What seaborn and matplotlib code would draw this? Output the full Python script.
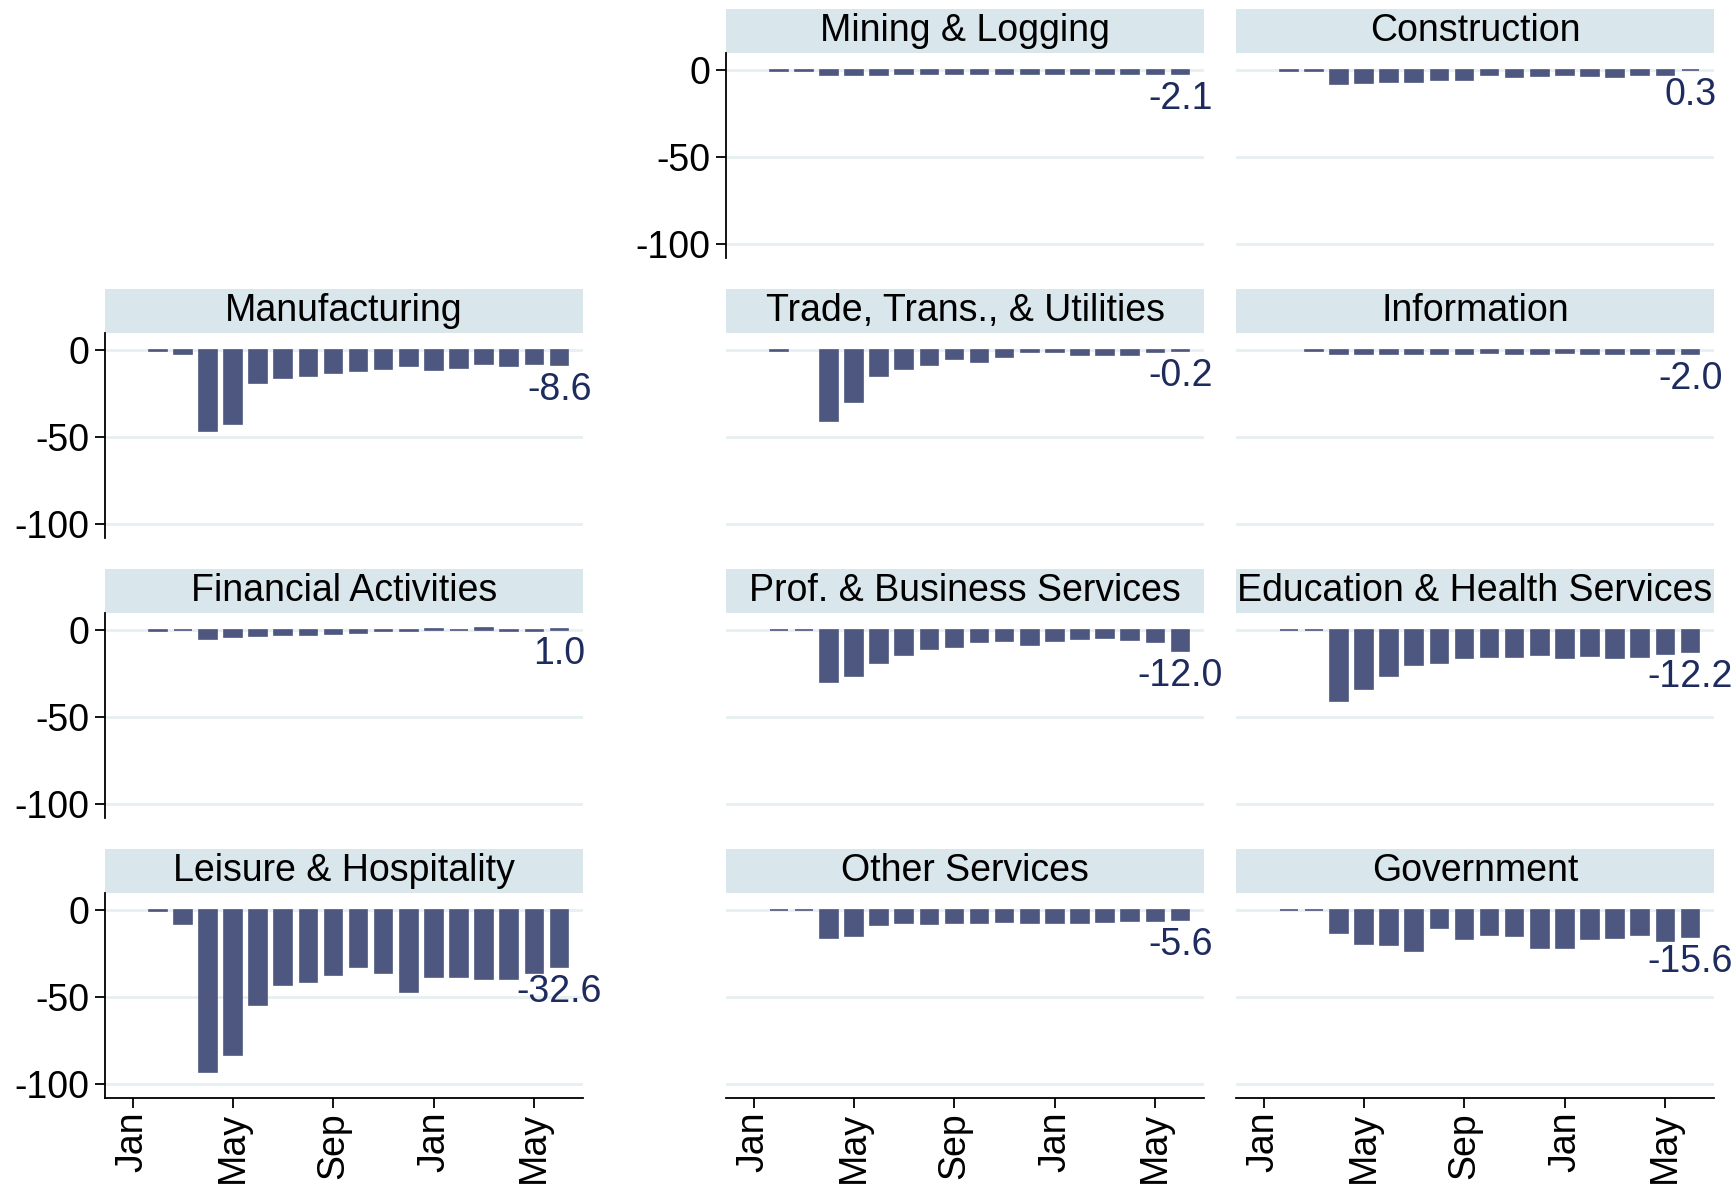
import matplotlib
matplotlib.use("Agg")
import matplotlib.pyplot as plt
import seaborn as sns
import pandas as pd
from matplotlib.patches import Rectangle

sns.set_theme(style="white")
plt.rcParams["font.family"] = ["Liberation Sans", "DejaVu Sans"]
plt.rcParams["axes.unicode_minus"] = False

# months Jan 2020 .. Jun 2021 (Jan 2020 has no bar)
months = pd.date_range("2020-01-01", "2021-06-01", freq="MS").strftime("%Y-%m").tolist()
bar_months = months[1:]
tick_labels = ["Jan", "May", "Sep", "Jan", "May"]

sectors = [
    "Mining & Logging", "Construction",
    "Manufacturing", "Trade, Trans., & Utilities", "Information",
    "Financial Activities", "Prof. & Business Services", "Education & Health Services",
    "Leisure & Hospitality", "Other Services", "Government",
]

mining = [-0.3, -0.5, -2.5, -2.4, -2.4, -2.3, -2.3, -2.2, -2.2, -2.1, -2.1, -2.0, -2.1, -2.1, -2.0, -2.1, -2.1]
construction = [-0.3, -0.4, -8.0, -7.4, -6.8, -6.8, -5.6, -5.6, -2.9, -3.9, -3.1, -2.9, -3.1, -3.9, -2.9, -2.9, 0.3]
manufacturing = [-0.3, -1.8, -46.5, -42.6, -19.0, -16.0, -15.0, -13.2, -12.0, -10.9, -9.1, -11.5, -9.9, -8.0, -9.1, -8.0, -8.6]
trade = [-0.3, 0.0, -40.5, -30.0, -14.5, -10.5, -8.2, -4.9, -6.6, -3.9, -1.1, -1.1, -2.7, -2.7, -2.7, -1.1, -0.2]
information = [0.0, -0.3, -2.2, -2.2, -2.2, -2.2, -2.2, -1.8, -1.4, -2.0, -2.0, -1.4, -2.0, -2.0, -2.0, -2.0, -2.0]
financial = [-0.2, 0.5, -4.7, -4.1, -3.5, -2.9, -2.9, -2.3, -1.7, -0.6, -0.6, 0.6, 0.3, 1.2, -0.3, -0.3, 1.0]
prof_business = [0.5, 0.3, -29.9, -26.4, -18.8, -14.2, -10.7, -9.5, -6.6, -6.0, -8.3, -6.0, -5.0, -4.5, -5.4, -6.6, -12.0]
educ_health = [0.5, 0.3, -40.4, -34.0, -26.4, -20.0, -18.8, -15.9, -15.5, -15.3, -14.2, -15.9, -14.8, -15.9, -15.3, -13.6, -12.2]
leisure = [-0.3, -8.0, -92.8, -83.5, -54.5, -42.8, -41.0, -37.0, -32.4, -35.9, -46.9, -38.2, -38.2, -39.3, -39.3, -35.9, -32.6]
other_services = [0.3, 0.3, -16.1, -15.0, -8.6, -7.4, -8.0, -7.4, -7.4, -6.8, -7.4, -7.4, -7.4, -6.8, -6.2, -6.2, -5.6]
government = [0.5, 0.3, -13.2, -19.6, -20.2, -23.1, -10.3, -16.7, -14.4, -15.0, -21.9, -21.4, -16.7, -16.1, -14.4, -17.9, -15.6]

series = [mining, construction, manufacturing, trade, information, financial,
          prof_business, educ_health, leisure, other_services, government]

df = pd.concat(
    [pd.DataFrame({"sector": s, "month": bar_months, "value": v}) for s, v in zip(sectors, series)],
    ignore_index=True,
)

bar_color = "#4e5780"
label_color = "#1e2b5e"
strip_color = "#d9e6ec"
grid_color = "#e6eff1"
fs = 27

W, H = 1735, 1185
col_left = [105, 726, 1236]
row_top = [53, 333, 613, 893]
ax_w, ax_h, strip_h = 478, 205, 44

fig = plt.figure(figsize=(W / 100, H / 100), dpi=100)

# grid cell for each sector (row, col); top-left cell is empty
cells = [(0, 1), (0, 2), (1, 0), (1, 1), (1, 2), (2, 0), (2, 1), (2, 2), (3, 0), (3, 1), (3, 2)]

for sector, vals, (r, c) in zip(sectors, series, cells):
    ax = fig.add_axes([col_left[c] / W, 1 - (row_top[r] + ax_h) / H, ax_w / W, ax_h / H])
    sub = df[df["sector"] == sector]
    sns.barplot(data=sub, x="month", y="value", order=months, color=bar_color,
                saturation=1, width=0.7, errorbar=None, ax=ax,
                edgecolor=bar_color, linewidth=1.2)
    # no outline on zero-height bars
    for p in ax.patches:
        if p.get_height() == 0:
            p.set_linewidth(0)
    ax.set_xlim(-1.1, 17.94)
    ax.set_ylim(-108, 10)
    ax.set_xlabel("")
    ax.set_ylabel("")
    ax.set_yticks([0, -50, -100])
    ax.set_yticklabels(["0", "-50", "-100"])
    ax.set_xticks([0, 4, 8, 12, 16])
    ax.set_xticklabels(tick_labels, rotation=90)
    ax.grid(axis="y", color=grid_color, lw=2)
    ax.grid(axis="x", visible=False)
    ax.set_axisbelow(True)
    for sp in ["top", "right"]:
        ax.spines[sp].set_visible(False)

    show_left = (c == 0) or (r == 0 and c == 1)
    ax.spines["left"].set_visible(show_left)
    ax.spines["left"].set_color("black")
    ax.spines["left"].set_linewidth(1.3)
    ax.tick_params(axis="y", left=show_left, labelleft=show_left, length=7, width=1.3,
                   pad=4, labelsize=fs, colors="black")

    bottom = r == 3
    ax.spines["bottom"].set_visible(bottom)
    ax.spines["bottom"].set_color("black")
    ax.spines["bottom"].set_linewidth(1.3)
    ax.tick_params(axis="x", bottom=bottom, labelbottom=bottom, length=7, width=1.3,
                   pad=3, labelsize=fs, colors="black")

    # strip title
    ax.add_patch(Rectangle((0, 1), 1, strip_h / ax_h, transform=ax.transAxes,
                           facecolor=strip_color, edgecolor="none", clip_on=False))
    ax.text(0.5, 1 + strip_h / ax_h / 2, sector, transform=ax.transAxes,
            ha="center", va="center", fontsize=fs, color="black")

    # label for latest value
    last = vals[-1]
    ax.text(len(months) - 1, last - 14.4, f"{last:.1f}", ha="center", va="center",
            fontsize=fs, color=label_color)

fig.savefig("out.png", dpi=100)
